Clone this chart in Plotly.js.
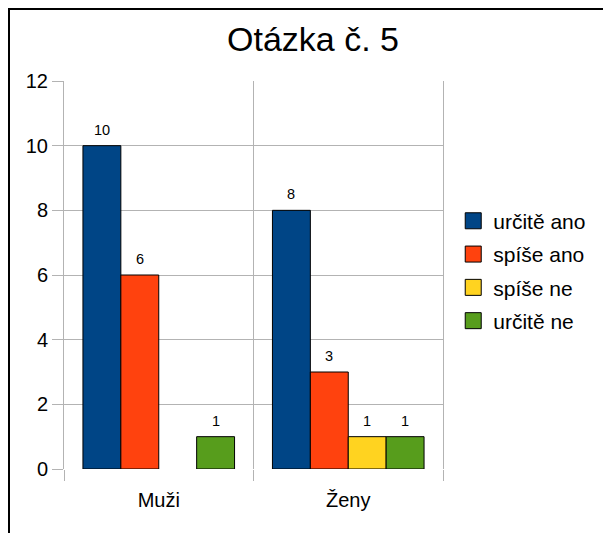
<!DOCTYPE html>
<html>
<head>
<meta charset="utf-8">
<script src="https://cdn.plot.ly/plotly-3.0.1.min.js"></script>
<style>
  html, body { margin: 0; padding: 0; background: #fff; }
  #chart { width: 603px; height: 533px; position: absolute; left: 0; top: 0; }
  #frame { position: absolute; left: 8px; top: 8px; width: 700px; height: 700px;
           border-left: 2px solid #000; border-top: 2px solid #000; pointer-events: none; }
</style>
</head>
<body>
<div id="chart"></div>
<div id="frame"></div>
<script>
const categories = ["Muži", "Ženy"];
const seriesNames = ["určitě ano", "spíše ano", "spíše ne", "určitě ne"];
const urciteAno = [10, 8];
const spiseAno = [6, 3];
const spiseNe = [null, 1];
const urciteNe = [1, 1];
const colors = ["#004586", "#ff420e", "#ffd320", "#579d1c"];
const yTicks = [0, 2, 4, 6, 8, 10, 12];

const values = [urciteAno, spiseAno, spiseNe, urciteNe];
const font = "Liberation Sans, Arial, sans-serif";

// bars (legend drawn by marker-only proxy traces for larger square swatches)
const barTraces = values.map((v, i) => ({
  type: "bar",
  name: seriesNames[i],
  x: categories,
  y: v,
  showlegend: false,
  marker: { color: colors[i], line: { color: "#000", width: 1 } }
}));
const legendTraces = seriesNames.map((n, i) => ({
  type: "scatter",
  mode: "markers",
  name: n,
  legendgroup: "g" + i,
  x: [null],
  y: [null],
  marker: { symbol: "square", size: 16, color: colors[i], line: { color: "#000", width: 1 } }
}));

// data labels above bars
const plotW = 603 - 64 - 160;
const barW = plotW / categories.length * 0.8 / values.length;
const annotations = [];
values.forEach((v, i) => {
  v.forEach((d, j) => {
    if (d == null) return;
    annotations.push({
      xref: "x", yref: "y",
      x: categories[j], y: d,
      text: String(d),
      showarrow: false,
      xanchor: "center", yanchor: "middle",
      xshift: (i - (values.length - 1) / 2) * barW,
      yshift: 16,
      font: { family: font, size: 14.5, color: "#000" }
    });
  });
});

const layout = {
  width: 603, height: 533,
  margin: { l: 64, r: 160, t: 81, b: 64 },
  paper_bgcolor: "#fff",
  plot_bgcolor: "#fff",
  barmode: "group",
  bargap: 0.2,
  bargroupgap: 0,
  title: {
    text: "Otázka č. 5",
    font: { family: font, size: 34, color: "#000" },
    x: 313 / 603, xanchor: "center",
    y: 1 - 39 / 533, yanchor: "middle"
  },
  annotations: annotations,
  xaxis: {
    type: "category",
    range: [-0.5, 1.5],
    tickson: "boundaries",
    ticks: "outside",
    ticklen: 11,
    tickcolor: "#b3b3b3",
    showgrid: true,
    gridcolor: "#b3b3b3",
    showline: false,
    zeroline: false,
    tickfont: { family: font, size: 20, color: "#000" },
    ticklabelstandoff: 17
  },
  yaxis: {
    range: [0, 12],
    tickvals: yTicks,
    ticks: "outside",
    ticklen: 11,
    tickcolor: "#b3b3b3",
    showgrid: true,
    gridcolor: "#b3b3b3",
    zeroline: false,
    showline: true,
    mirror: true,
    linecolor: "#b3b3b3",
    tickfont: { family: font, size: 20, color: "#000" }
  },
  showlegend: true,
  legend: {
    x: 1.027, xanchor: "left",
    y: 0.51, yanchor: "middle",
    font: { family: font, size: 21, color: "#000" },
    tracegroupgap: 3,
    itemsizing: "trace",
    bgcolor: "rgba(0,0,0,0)"
  }
};

Plotly.newPlot("chart", barTraces.concat(legendTraces), layout, { displayModeBar: false, staticPlot: true });
</script>
</body>
</html>
